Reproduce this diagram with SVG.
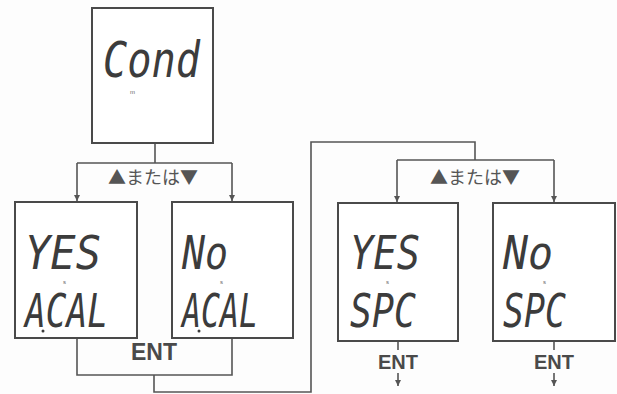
<svg xmlns="http://www.w3.org/2000/svg" width="617" height="394" viewBox="0 0 617 394">
<style>
.box{fill:#fff;stroke:#4a4a4a;stroke-width:2}
.ln{fill:none;stroke:#555;stroke-width:1.6}
.seg{font-family:"DejaVu Sans Mono","Liberation Mono",monospace;font-style:oblique;fill:#3c3c3c}
.tiny{font-family:"Liberation Sans",sans-serif;font-size:6px;fill:#666}
.jp{font-family:"Noto Sans CJK JP","Noto Sans",sans-serif;font-size:18px;fill:#555}
.ent{font-family:"Liberation Sans",Arial,sans-serif;font-weight:bold;fill:#4a4a4a;text-anchor:middle}
</style>
<defs>
<marker id="ah" viewBox="0 0 8 8" refX="8" refY="4" markerWidth="6" markerHeight="6" orient="auto" markerUnits="userSpaceOnUse">
<path d="M0,0 L8,4 L0,8 Z" fill="#555"/>
</marker>
</defs>
<rect width="617" height="394" fill="#fdfdfd"/>
<g id="connectors">
<path class="ln" d="M155,143 V163 M77,163 H232"/>
<path class="ln" d="M77,163 V201" marker-end="url(#ah)"/>
<path class="ln" d="M232,163 V201" marker-end="url(#ah)"/>
<path class="ln" d="M77,338 V375 H232 V338 M154,375 V392 H311 V142 H475 V160 M397,160 H554"/>
<path class="ln" d="M397,160 V202" marker-end="url(#ah)"/>
<path class="ln" d="M554,160 V202" marker-end="url(#ah)"/>
<path class="ln" d="M398,341 V350 M554,341 V350"/>
<path class="ln" d="M398,373 V386" marker-end="url(#ah)"/>
<path class="ln" d="M554,373 V386" marker-end="url(#ah)"/>
<text class="jp" x="153" y="184" text-anchor="middle">▲または▼</text>
<text class="jp" x="475" y="184" text-anchor="middle">▲または▼</text>
<text class="ent" x="154" y="360" font-size="23">ENT</text>
<text class="ent" x="398" y="369" font-size="20">ENT</text>
<text class="ent" x="554" y="369" font-size="20">ENT</text>
</g>
<g id="cond">
<rect class="box" x="92" y="8" width="121" height="135"/>
<text class="seg" x="103" y="77" font-size="50" textLength="97" lengthAdjust="spacingAndGlyphs">Cond</text>
<text class="tiny" x="130" y="94">m</text>
</g>
<g id="yes-acal">
<rect class="box" x="15" y="202" width="122" height="136"/>
<text class="seg" x="25" y="269" font-size="46" textLength="76" lengthAdjust="spacingAndGlyphs">YES</text>
<text class="tiny" x="63" y="284">s</text>
<text class="seg" x="25" y="327" font-size="46" textLength="83" lengthAdjust="spacingAndGlyphs">ACAL</text>
<circle cx="43" cy="331" r="1.5" fill="#3c3c3c"/>
</g>
<g id="no-acal">
<rect class="box" x="172" y="202" width="121" height="136"/>
<text class="seg" x="182" y="269" font-size="46" textLength="46" lengthAdjust="spacingAndGlyphs">No</text>
<text class="tiny" x="220" y="284">s</text>
<text class="seg" x="182" y="327" font-size="46" textLength="76" lengthAdjust="spacingAndGlyphs">ACAL</text>
<circle cx="199" cy="331" r="1.5" fill="#3c3c3c"/>
</g>
<g id="yes-spc">
<rect class="box" x="338" y="203" width="120" height="138"/>
<text class="seg" x="350" y="269" font-size="46" textLength="70" lengthAdjust="spacingAndGlyphs">YES</text>
<text class="tiny" x="386" y="284">s</text>
<text class="seg" x="350" y="327" font-size="46" textLength="66" lengthAdjust="spacingAndGlyphs">SPC</text>
</g>
<g id="no-spc">
<rect class="box" x="493" y="203" width="122" height="138"/>
<text class="seg" x="503" y="269" font-size="46" textLength="50" lengthAdjust="spacingAndGlyphs">No</text>
<text class="tiny" x="543" y="284">s</text>
<text class="seg" x="503" y="327" font-size="46" textLength="63" lengthAdjust="spacingAndGlyphs">SPC</text>
</g>
</svg>
